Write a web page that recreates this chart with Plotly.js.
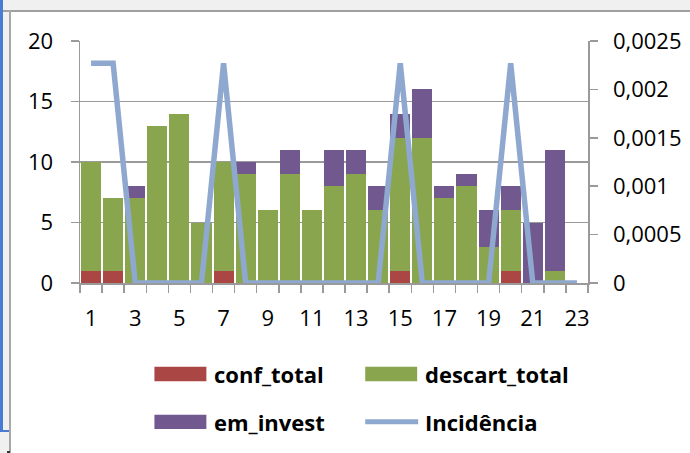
<!DOCTYPE html>
<html>
<head>
<meta charset="utf-8">
<script src="https://cdn.plot.ly/plotly-3.0.1.min.js"></script>
<style>
  html, body { margin:0; padding:0; width:690px; height:453px; overflow:hidden; background:#f0f0f0; }
  #frameTop { position:absolute; left:0; top:10px; width:690px; height:1.5px; background:#a0a0a0; }
  #blueV { position:absolute; left:0px; top:0; width:3px; height:432px; background:#4a7bd4; }
  #blueH { position:absolute; left:0px; top:430px; width:9px; height:2px; background:#4a7bd4; }
  #grayV { position:absolute; left:9px; top:10px; width:2px; height:443px; background:#a8a8a8; }
  #mark { position:absolute; left:7px; top:451px; width:3px; height:2px; background:#333; }
  #chart { position:absolute; left:11px; top:12px; width:679px; height:441px; background:#fff; }
</style>
</head>
<body>
<div id="frameTop"></div>
<div id="blueV"></div>
<div id="blueH"></div>
<div id="grayV"></div>
<div id="mark"></div>
<div id="chart"></div>
<script>
// ---- data ----
const categories = [1,2,3,4,5,6,7,8,9,10,11,12,13,14,15,16,17,18,19,20,21,22,23];
const conf_total    = [1,1,0,0,0,0,1,0,0,0,0,0,0,0,1,0,0,0,0,1,0,0,0];
const descart_total = [9,6,7,13,14,5,9,9,6,9,6,8,9,6,11,12,7,8,3,5,0,1,0];
const em_invest     = [0,0,1,0,0,0,0,1,0,2,0,3,2,2,2,4,1,1,3,2,5,10,0];
const incidencia    = [0.00227,0.00227,0,0,0,0,0.00227,0,0,0,0,0,0,0,0.00227,0,0,0,0,0.00227,0,0,0];
const xTickVals  = [1,3,5,7,9,11,13,15,17,19,21,23];
const xTickText  = ['1','3','5','7','9','11','13','15','17','19','21','23'];
const y2TickVals = [0,0.0005,0.001,0.0015,0.002,0.0025];
const y2TickText = ['0','0,0005','0,001','0,0015','0,002','0,0025'];
const seriesNames = ['conf_total','descart_total','em_invest','Incidência'];

// ---- styling ----
const colors = { conf:'#aa4643', desc:'#89a54e', inv:'#71588f', line:'#8ea8cf' };
const gridC = '#9a9a9a';
const FONT = 'Open Sans, Noto Sans, sans-serif';

// plot area in page pixels
const DIVX = 11, DIVY = 12, W = 679, H = 441;
const M = { l:68.5, r:102, t:28.7, b:169.7 };
const PW = W - M.l - M.r, PH = H - M.t - M.b;
const px = x => (x - DIVX - M.l) / PW;
const py = y => 1 - (y - DIVY - M.t) / PH;

const traces = [
  { type:'bar', name:seriesNames[0], x:categories, y:conf_total, marker:{color:colors.conf}, yaxis:'y', showlegend:false },
  { type:'bar', name:seriesNames[1], x:categories, y:descart_total, marker:{color:colors.desc}, yaxis:'y', showlegend:false },
  { type:'bar', name:seriesNames[2], x:categories, y:em_invest, marker:{color:colors.inv}, yaxis:'y', showlegend:false },
  { type:'scatter', mode:'lines', name:seriesNames[3], x:categories, y:incidencia, yaxis:'y2',
    line:{color:colors.line, width:5.5}, showlegend:false }
];

// custom legend (swatches + real text)
const legendItems = [
  { name:seriesNames[0], kind:'bar',  color:colors.conf, sx0:154, sx1:206, cy:374.5, tx:211.5 },
  { name:seriesNames[1], kind:'bar',  color:colors.desc, sx0:365, sx1:417, cy:374.5, tx:422.5 },
  { name:seriesNames[2], kind:'bar',  color:colors.inv,  sx0:154, sx1:206, cy:422.5, tx:211.5 },
  { name:seriesNames[3], kind:'line', color:colors.line, sx0:365, sx1:418, cy:422.5, tx:422.5 }
];
const shapes = [], annotations = [];
legendItems.forEach(it => {
  if (it.kind === 'bar') {
    shapes.push({ type:'rect', xref:'paper', yref:'paper', x0:px(it.sx0), x1:px(it.sx1),
      y0:py(it.cy-7.2), y1:py(it.cy+7.2), fillcolor:it.color, line:{width:0} });
  } else {
    shapes.push({ type:'line', xref:'paper', yref:'paper', x0:px(it.sx0), x1:px(it.sx1),
      y0:py(it.cy), y1:py(it.cy), line:{color:it.color, width:5} });
  }
  annotations.push({ xref:'paper', yref:'paper', x:px(it.tx), y:py(it.cy), xanchor:'left', yanchor:'middle',
    showarrow:false, text:'<b>'+it.name+'</b>', font:{family:FONT, size:22, color:'#000'} });
});

const layout = {
  width:W, height:H,
  margin:M,
  paper_bgcolor:'#fff', plot_bgcolor:'#fff',
  barmode:'stack', bargap:0.09,
  showlegend:false,
  font:{family:FONT, size:22, color:'#000'},
  xaxis:{
    range:[0.5,23.5], tickmode:'array', tickvals:xTickVals, ticktext:xTickText,
    ticks:'', showgrid:false, zeroline:false,
    showline:true, linecolor:gridC, linewidth:1.5,
    minor:{ tick0:0.5, dtick:1, ticks:'outside', ticklen:8, tickwidth:1.5, tickcolor:gridC, showgrid:false },
    ticklabelstandoff:15,
    tickfont:{family:FONT, size:22, color:'#000'}
  },
  yaxis:{
    range:[0,20], tickmode:'array', tickvals:[0,5,10,15,20], ticktext:['0','5','10','15','20'],
    ticks:'outside', ticklen:8, tickwidth:1.5, tickcolor:gridC,
    showgrid:true, gridcolor:gridC, gridwidth:1.5, zeroline:false,
    showline:true, linecolor:gridC, linewidth:1.5,
    ticklabelstandoff:13,
    tickfont:{family:FONT, size:22, color:'#000'}
  },
  yaxis2:{
    overlaying:'y', side:'right', range:[0,0.0025],
    tickmode:'array', tickvals:y2TickVals, ticktext:y2TickText,
    ticks:'outside', ticklen:8, tickwidth:1.5, tickcolor:gridC,
    showgrid:false, zeroline:false,
    showline:true, linecolor:gridC, linewidth:1.5,
    ticklabelstandoff:11,
    tickfont:{family:FONT, size:22, color:'#000'}
  },
  shapes:shapes,
  annotations:annotations
};

Plotly.newPlot('chart', traces, layout, {staticPlot:true, displayModeBar:false});
</script>
</body>
</html>
